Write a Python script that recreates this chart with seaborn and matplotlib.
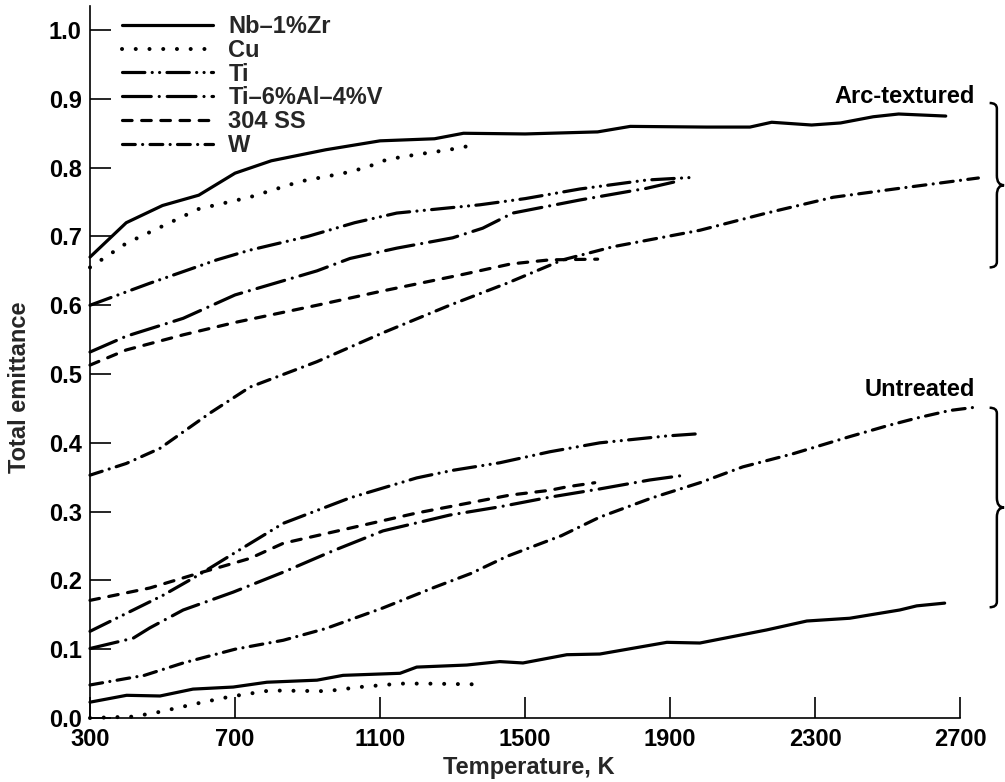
"""Total emittance vs temperature, arc-textured and untreated metals."""
import matplotlib

matplotlib.use("Agg")
import matplotlib.pyplot as plt
import seaborn as sns
from matplotlib.patches import PathPatch
from matplotlib.path import Path

# ------------------------------------------------------------------ #
# Data (T in K, total emittance)
# ------------------------------------------------------------------ #
nb_arc_t = [300, 350, 400, 500, 600, 700, 800, 950, 1100, 1250, 1330, 1500,
            1700, 1790, 2000, 2120, 2180, 2290, 2370, 2460, 2530, 2660]
nb_arc_e = [0.67, 0.695, 0.72, 0.745, 0.76, 0.792, 0.81, 0.826, 0.839, 0.842,
            0.85, 0.849, 0.852, 0.86, 0.859, 0.859, 0.866, 0.862, 0.865,
            0.874, 0.878, 0.875]
cu_arc_t = [300, 400, 500, 600, 740, 880, 1000, 1060, 1120, 1200, 1290, 1350]
cu_arc_e = [0.655, 0.69, 0.715, 0.74, 0.757, 0.78, 0.792, 0.80, 0.812, 0.819,
            0.826, 0.832]
ti_arc_t = [300, 465, 650, 740, 900, 1030, 1146, 1375, 1500, 1651, 1835, 1968]
ti_arc_e = [0.60, 0.632, 0.666, 0.68, 0.70, 0.72, 0.734, 0.746, 0.755, 0.769,
            0.782, 0.786]
ti6_arc_t = [300, 400, 557, 700, 926, 1017, 1146, 1300, 1383, 1466, 1651,
             1835, 1918]
ti6_arc_e = [0.532, 0.555, 0.581, 0.615, 0.65, 0.668, 0.683, 0.698, 0.712,
             0.734, 0.753, 0.77, 0.78]
ss_arc_t = [300, 400, 557, 700, 926, 1100, 1330, 1460, 1568, 1700]
ss_arc_e = [0.513, 0.535, 0.557, 0.575, 0.60, 0.62, 0.645, 0.66, 0.666, 0.667]
w_arc_t = [300, 400, 493, 630, 741, 926, 1108, 1292, 1450, 1604, 1742, 1982,
           2166, 2350, 2533, 2750]
w_arc_e = [0.353, 0.37, 0.392, 0.443, 0.481, 0.518, 0.56, 0.60, 0.632, 0.666,
           0.685, 0.709, 0.734, 0.757, 0.77, 0.785]

nb_unt_t = [300, 401, 493, 584, 695, 788, 926, 998, 1155, 1201, 1339, 1430,
            1494, 1615, 1706, 1891, 1982, 2166, 2277, 2395, 2533, 2580, 2657]
nb_unt_e = [0.023, 0.033, 0.032, 0.042, 0.045, 0.052, 0.055, 0.062, 0.065,
            0.074, 0.077, 0.082, 0.08, 0.092, 0.093, 0.11, 0.109, 0.128,
            0.141, 0.145, 0.157, 0.163, 0.167]
cu_unt_t = [300, 419, 484, 603, 686, 796, 953, 1044, 1155, 1229, 1356]
cu_unt_e = [0.0, 0.002, 0.008, 0.022, 0.031, 0.04, 0.039, 0.045, 0.05, 0.05,
            0.049]
ti_unt_t = [300, 400, 500, 600, 705, 833, 1017, 1201, 1300, 1430, 1568, 1706,
            1891, 1973]
ti_unt_e = [0.126, 0.152, 0.178, 0.208, 0.242, 0.283, 0.32, 0.349, 0.36,
            0.371, 0.387, 0.40, 0.41, 0.413]
ti6_unt_t = [300, 419, 465, 557, 695, 833, 970, 1108, 1292, 1430, 1568, 1706,
             1844, 1927]
ti6_unt_e = [0.101, 0.116, 0.131, 0.157, 0.183, 0.212, 0.243, 0.272, 0.295,
             0.307, 0.321, 0.333, 0.346, 0.352]
ss_unt_t = [300, 465, 603, 650, 741, 833, 1017, 1201, 1458, 1568, 1615, 1692]
ss_unt_e = [0.171, 0.189, 0.211, 0.218, 0.232, 0.254, 0.276, 0.298, 0.324,
            0.331, 0.336, 0.342]
w_unt_t = [300, 450, 557, 700, 833, 950, 1108, 1250, 1350, 1450, 1600, 1706,
           1850, 1982, 2100, 2238, 2395, 2500, 2580, 2671, 2745]
w_unt_e = [0.048, 0.062, 0.08, 0.10, 0.113, 0.13, 0.16, 0.19, 0.21, 0.235,
           0.265, 0.292, 0.32, 0.342, 0.365, 0.384, 0.409, 0.425, 0.436,
           0.447, 0.452]

materials = ["Nb\u20131%Zr", "Cu", "Ti", "Ti\u20136%Al\u20134%V", "304 SS", "W"]
arc_series = [(nb_arc_t, nb_arc_e), (cu_arc_t, cu_arc_e), (ti_arc_t, ti_arc_e),
              (ti6_arc_t, ti6_arc_e), (ss_arc_t, ss_arc_e), (w_arc_t, w_arc_e)]
unt_series = [(nb_unt_t, nb_unt_e), (cu_unt_t, cu_unt_e), (ti_unt_t, ti_unt_e),
              (ti6_unt_t, ti6_unt_e), (ss_unt_t, ss_unt_e), (w_unt_t, w_unt_e)]

x_ticks = [300, 700, 1100, 1500, 1900, 2300, 2700]
y_ticks = [0.0, 0.1, 0.2, 0.3, 0.4, 0.5, 0.6, 0.7, 0.8, 0.9, 1.0]

# group braces: (label, label y, brace low, brace high)
groups = [("Arc-textured", 0.903, 0.655, 0.894),
          ("Untreated", 0.478, 0.161, 0.451)]

# line style per material (dash units scale with linewidth, round caps)
line_kw = [
    dict(linestyle="-", linewidth=2.3),
    dict(linestyle=(0, (0.01, 3.4)), linewidth=2.9),
    dict(linestyle=(0, (7, 2.3, 0.01, 2.3, 0.01, 2.3)), linewidth=2.3),
    dict(linestyle=(0, (9, 2.5, 0.01, 2.5)), linewidth=2.3),
    dict(linestyle=(0, (3, 3)), linewidth=2.3),
    dict(linestyle=(0, (4, 2.3, 0.01, 2.3)), linewidth=2.3),
]

FS = 17

# ------------------------------------------------------------------ #
# Figure
# ------------------------------------------------------------------ #
sns.set_style("ticks")
plt.rcParams["font.family"] = ["Liberation Sans", "DejaVu Sans"]
plt.rcParams["font.weight"] = "bold"

fig = plt.figure(figsize=(10.05, 7.82), dpi=100)
ax = fig.add_axes([90 / 1005, 64 / 782, 892 / 1005, 712 / 782])

for name, kw, (ta, ea), (tu, eu) in zip(materials, line_kw, arc_series,
                                        unt_series):
    sns.lineplot(x=ta, y=ea, ax=ax, color="black", label=name,
                 dash_capstyle="round", solid_capstyle="round",
                 clip_on=False, **kw)
    sns.lineplot(x=tu, y=eu, ax=ax, color="black",
                 dash_capstyle="round", solid_capstyle="round",
                 clip_on=False, **kw)

ax.set_xlim(300, 2760)
ax.set_ylim(0, 1.035)
ax.set_xticks(x_ticks)
ax.set_yticks(y_ticks)
ax.set_yticklabels([f"{v:.1f}" for v in y_ticks])
ax.tick_params(direction="in", length=15, width=1.2, labelsize=FS, pad=6,
               color="black", labelcolor="black")
ax.tick_params(axis="x", pad=7)

for side in ("top", "right"):
    ax.spines[side].set_visible(False)
for side in ("left", "bottom"):
    ax.spines[side].set_linewidth(1.2)
    ax.spines[side].set_color("black")
ax.spines["bottom"].set_bounds(300, 2700)

ax.set_xlabel("Temperature, K", fontsize=FS, fontweight="bold")
ax.set_ylabel("Total emittance", fontsize=FS, fontweight="bold")
ax.xaxis.set_label_coords(0.492, -0.054)
ax.yaxis.set_label_coords(-0.066, 0.465)

handles, labels = ax.get_legend_handles_labels()
ax.legend(handles, labels, loc="upper left", bbox_to_anchor=(0.036, 0.987),
          frameon=False, fontsize=FS, handlelength=3.85, handletextpad=0.65,
          labelspacing=0.03, borderpad=0, borderaxespad=0)


def add_brace(ax, x, y_lo, y_hi, hook=20, tip=20, r=0.008, rm=0.014):
    """Right-pointing curly brace spanning y_lo..y_hi at data x."""
    y_mid = (y_lo + y_hi) / 2
    verts = [(x - hook, y_hi), (x, y_hi), (x, y_hi - r),
             (x, y_mid + rm), (x, y_mid), (x + tip, y_mid),
             (x, y_mid), (x, y_mid - rm),
             (x, y_lo + r), (x, y_lo), (x - hook, y_lo)]
    codes = [Path.MOVETO, Path.CURVE3, Path.CURVE3,
             Path.LINETO, Path.CURVE3, Path.CURVE3,
             Path.CURVE3, Path.CURVE3,
             Path.LINETO, Path.CURVE3, Path.CURVE3]
    ax.add_patch(PathPatch(Path(verts, codes), fill=False, lw=1.8,
                           edgecolor="black", clip_on=False))


for label, ly, lo, hi in groups:
    ax.text(2740, ly, label, ha="right", va="center", fontsize=FS,
            fontweight="bold", color="black")
    add_brace(ax, 2801, lo, hi)

fig.savefig("out.png", dpi=100, facecolor="white")
